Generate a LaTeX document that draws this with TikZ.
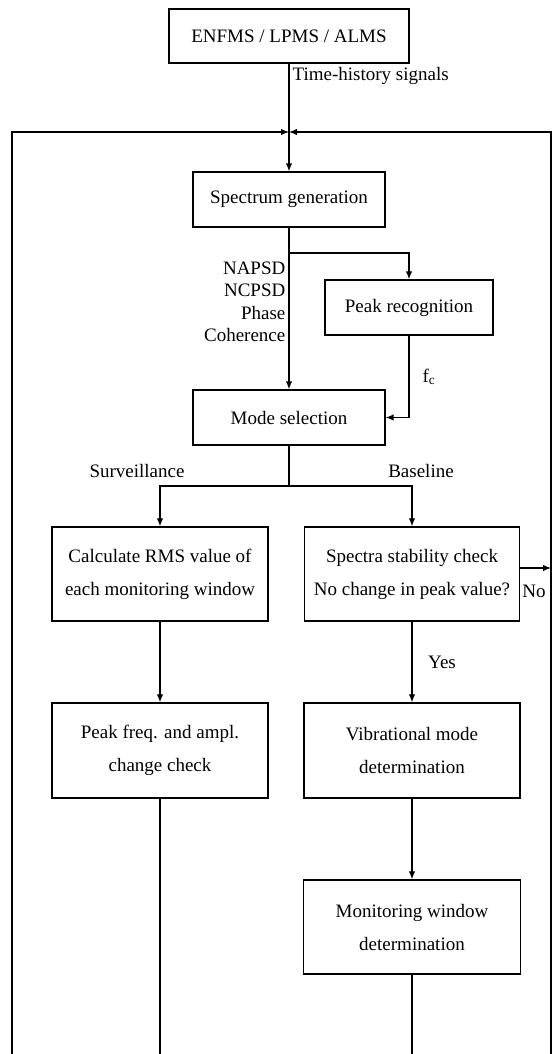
\documentclass[tikz,border=0pt]{standalone}
\usepackage{fontspec}
\setmainfont{Liberation Serif}
\usetikzlibrary{arrows.meta}

\begin{document}
\begin{tikzpicture}[x=1pt,y=-1pt,line width=1.3pt,
  font=\fontsize{19}{33}\selectfont,
  box/.style={draw,align=center,inner sep=0pt},
  lbl/.style={inner sep=0pt},
  arr/.style={-{Latex[length=8pt,width=6.5pt]}}]
\useasboundingbox (0,0) rectangle (557,1054);

%: \flowbox{<name>}{<x,y>}{<width>}{<height>}{<text>}
\newcommand{\flowbox}[5]{%
\node[box,minimum width=#3,minimum height=#4] (#1) at (#2) {#5};}

\flowbox{src}{289,36}{240pt}{54pt}{ENFMS / LPMS / ALMS}
\flowbox{spec}{289,199.5}{192pt}{55pt}{Spectrum generation}
\flowbox{peak}{409,307.5}{168pt}{55pt}{Peak recognition}
\flowbox{mode}{289,417.5}{192pt}{55pt}{Mode selection}
\flowbox{rms}{160,574}{216pt}{94pt}{Calculate RMS value of\\each monitoring window}
\flowbox{stab}{412,574}{215pt}{94pt}{Spectra stability check\\No change in peak value?}
\flowbox{pfreq}{160,750.5}{216pt}{95pt}{Peak freq. and ampl.\\change check}
\flowbox{vib}{412,750.5}{216pt}{95pt}{Vibrational mode\\determination}
\flowbox{mwin}{412,927}{217pt}{94pt}{Monitoring window\\determination}

% loop corners and open ends
\coordinate (jn) at (289,132);
\coordinate (lt) at (12,132);
\coordinate (rt) at (551,132);
\coordinate (lb) at (12,1054);
\coordinate (rb) at (551,1054);
\coordinate (sp) at (289,253);
\coordinate (md) at (289,486);
\coordinate (nopt) at (551,568);
\coordinate (pe) at (160,1054);
\coordinate (me) at (412,1054);

\draw[arr] (src) -- (spec);
\draw[arr] (lb) -- (lt) -- (jn);
\draw[arr] (rb) -- (rt) -- (jn);
\draw[arr] (spec) -- (mode);
\draw[arr] (sp) -| (peak);
\draw[arr] (peak) |- (mode);
\draw (mode) -- (md);
\draw[arr] (md) -| (rms);
\draw[arr] (md) -| (stab);
\draw[arr] (stab.east |- nopt) -- (nopt);
\draw[arr] (rms) -- (pfreq);
\draw (pfreq) -- (pe);
\draw[arr] (stab) -- (vib);
\draw[arr] (vib) -- (mwin);
\draw (mwin) -- (me);

% labels
\node[lbl,anchor=west] (ths) at (292,76) {Time-history signals};
\node[lbl,anchor=east,align=right,font=\fontsize{19}{22.5}\selectfont] (sig) at (286,302)
  {NAPSD\\NCPSD\\Phase\\Coherence};
\node[lbl] (fc) at (429,377) {f\textsubscript{c}};
\node[lbl] (sur) at (137,471) {Surveillance};
\node[lbl] (bas) at (421,471) {Baseline};
\node[lbl] (yes) at (442,662) {Yes};
\node[lbl] (no) at (534,591) {No};
\end{tikzpicture}
\end{document}
